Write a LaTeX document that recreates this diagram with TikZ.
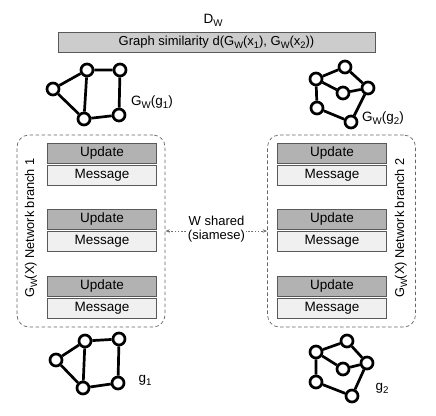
\documentclass[tikz,border=0pt]{standalone}
\usepackage{fontspec}
\setmainfont{Liberation Sans}
\usetikzlibrary{arrows.meta}
\newcommand\lowsub[1]{\raisebox{-0.45ex}{\scalebox{0.72}{#1}}}
\begin{document}
\begin{tikzpicture}[x=1pt,y=-1pt,
  font=\fontsize{13.5}{16}\selectfont,
  gn/.style={circle,draw=black,line width=2.7pt,fill=white,minimum size=12pt,inner sep=0pt},
  ge/.style={line width=2.7pt},
  upd/.style={draw=black!65,line width=0.6pt,fill=black!30,minimum width=109.5pt,minimum height=20pt,inner sep=0pt},
  msg/.style={draw=black!65,line width=0.6pt,fill=black!6,minimum width=109.5pt,minimum height=20pt,inner sep=0pt},
  branch/.style={draw=black!60,line width=0.7pt,dash pattern=on 3.5pt off 2.5pt,rounded corners=12pt,minimum width=148pt,minimum height=192pt,inner sep=0pt},
  shared/.style={draw=black!55,line width=0.7pt,dash pattern=on 1.6pt off 1.6pt,{Stealth[length=4.5pt,width=3.5pt]}-{Stealth[length=4.5pt,width=3.5pt]}}
]
\useasboundingbox (0,0) rectangle (436,415);

% top
\node (dw) at (213,20) {D\lowsub{W}};
\node[draw=black!65,line width=0.6pt,fill=black!20,minimum width=317pt,minimum height=20pt,inner sep=0pt,font=\fontsize{13}{15}\selectfont] (sim) at (216.5,42)
  {Graph similarity d(G\lowsub{W}(x\lowsub{1}), G\lowsub{W}(x\lowsub{2}))};

% top-left graph
\node[gn] (a1) at (53,89) {};
\node[gn] (a2) at (87,70) {};
\node[gn] (a3) at (120,70) {};
\node[gn] (a4) at (84,119) {};
\node[gn] (a5) at (119,115) {};
\draw[ge] (a1)--(a2) (a1)--(a4) (a2)--(a3) (a2)--(a4) (a3)--(a5) (a4)--(a5);
\node[anchor=west,inner sep=0pt] (la) at (131,102) {G\lowsub{W}(g\lowsub{1})};

% top-right graph
\node[gn] (b1) at (316,79) {};
\node[gn] (b2) at (345,67) {};
\node[gn] (b3) at (343,93) {};
\node[gn] (b4) at (368,88) {};
\node[gn] (b5) at (317,108) {};
\node[gn] (b6) at (351,122) {};
\draw[ge] (b1)--(b2) (b2)--(b4) (b1)--(b3) (b3)--(b4) (b1)--(b5) (b5)--(b6) (b6)--(b4);
\node[anchor=west,inner sep=0pt] (lb) at (362,118) {G\lowsub{W}(g\lowsub{2})};

% branches
\node[branch] (L) at (91,231) {};
\node[branch] (R) at (341.5,231) {};
\node[rotate=90,font=\fontsize{12.8}{14}\selectfont] (lt) at (31,228) {G\lowsub{W}(X) Network branch 1};
\node[rotate=90,font=\fontsize{12.8}{14}\selectfont] (rt) at (401,228) {G\lowsub{W}(X) Network branch 2};

\node[upd] (u1) at (102,153) {Update};
\node[msg] (m1) at (102,175) {Message};
\node[upd] (u2) at (102,219.5) {Update};
\node[msg] (m2) at (102,241.5) {Message};
\node[upd] (u3) at (102,286) {Update};
\node[msg] (m3) at (102,308.5) {Message};

\node[upd] (v1) at (332,153) {Update};
\node[msg] (w1) at (332,175) {Message};
\node[upd] (v2) at (332,219.5) {Update};
\node[msg] (w2) at (332,241.5) {Message};
\node[upd] (v3) at (332,286) {Update};
\node[msg] (w3) at (332,308.5) {Message};

\draw[shared] (L.east) -- (R.west);
\node[fill=white,align=center,inner sep=1pt,font=\fontsize{13}{14}\selectfont] (ws) at (216.5,229) {W shared\\(siamese)};

% bottom-left graph
\node[gn] (c1) at (56,360) {};
\node[gn] (c2) at (85,341) {};
\node[gn] (c3) at (119,339) {};
\node[gn] (c4) at (83,388) {};
\node[gn] (c5) at (118,383) {};
\draw[ge] (c1)--(c2) (c1)--(c4) (c2)--(c3) (c2)--(c4) (c3)--(c5) (c4)--(c5);
\node (lc) at (145,380) {g\lowsub{1}};

% bottom-right graph
\node[gn] (d1) at (316,352) {};
\node[gn] (d2) at (347,341) {};
\node[gn] (d3) at (343,369) {};
\node[gn] (d4) at (367,363) {};
\node[gn] (d5) at (316,382) {};
\node[gn] (d6) at (352,396) {};
\draw[ge] (d1)--(d2) (d2)--(d4) (d1)--(d3) (d3)--(d4) (d1)--(d5) (d5)--(d6) (d6)--(d4);
\node (ld) at (382,388) {g\lowsub{2}};
\end{tikzpicture}
\end{document}
